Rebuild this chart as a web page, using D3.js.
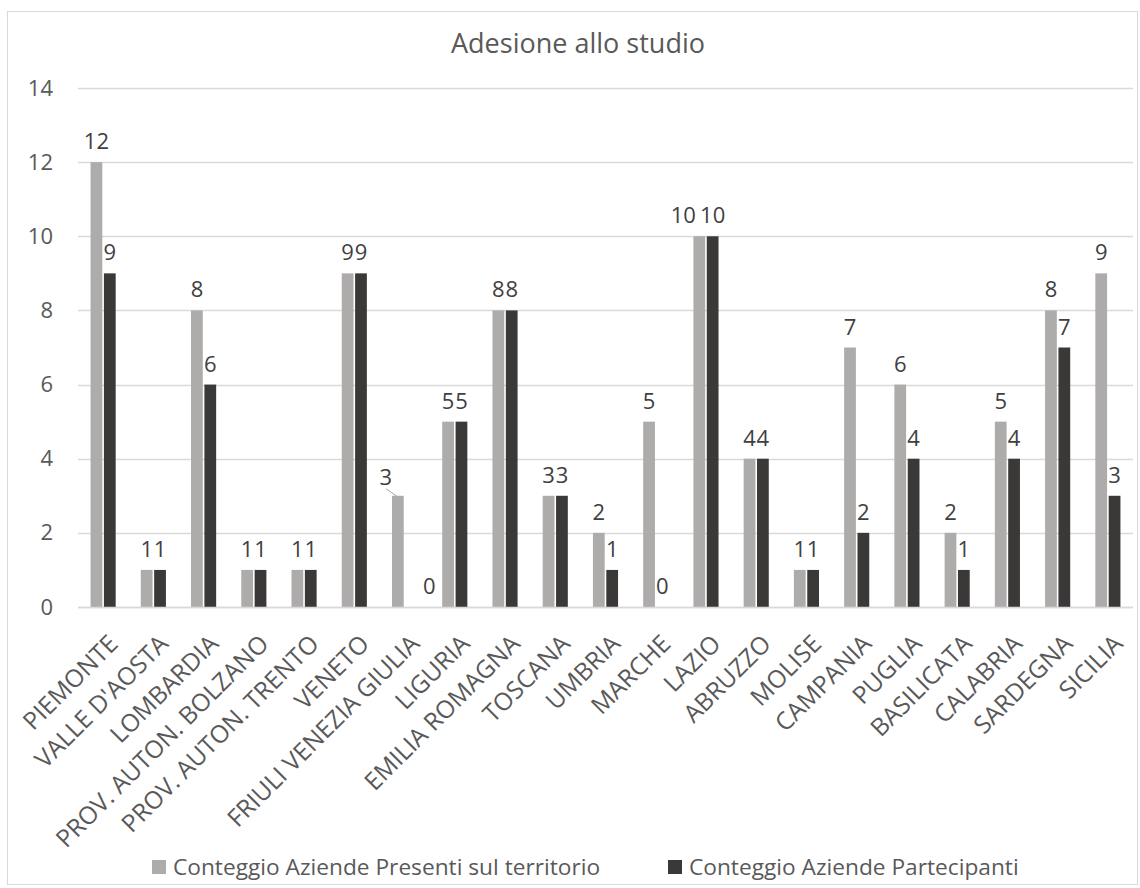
<!DOCTYPE html>
<html>
<head>
<meta charset="utf-8">
<script src="https://cdn.jsdelivr.net/npm/d3@7"></script>
<style>
  body { margin: 0; background: #fff; }
  svg text { font-family: "Open Sans", sans-serif; fill: #595959; }
</style>
</head>
<body>
<div id="chart"></div>
<script>
const regions = ["PIEMONTE", "VALLE D'AOSTA", "LOMBARDIA", "PROV. AUTON. BOLZANO", "PROV. AUTON. TRENTO",
    "VENETO", "FRIULI VENEZIA GIULIA", "LIGURIA", "EMILIA ROMAGNA", "TOSCANA", "UMBRIA", "MARCHE",
    "LAZIO", "ABRUZZO", "MOLISE", "CAMPANIA", "PUGLIA", "BASILICATA", "CALABRIA", "SARDEGNA", "SICILIA"];
const presenti = [12, 1, 8, 1, 1, 9, 3, 5, 8, 3, 2, 5, 10, 4, 1, 7, 6, 2, 5, 8, 9];
const partecipanti = [9, 1, 6, 1, 1, 9, 0, 5, 8, 3, 1, 0, 10, 4, 1, 2, 4, 1, 4, 7, 3];
const seriesNames = ["Conteggio Aziende Presenti sul territorio", "Conteggio Aziende Partecipanti"];
const yTicks = [0, 2, 4, 6, 8, 10, 12, 14];

const W = 1140, H = 888;
const margin = {top: 88, right: 7, bottom: 281, left: 78};
const colors = ["#aeabab", "#3b3838"];

const svg = d3.select("#chart").append("svg")
    .attr("width", W).attr("height", H);

// chart frame
svg.append("rect")
    .attr("x", 7.5).attr("y", 11.5)
    .attr("width", 1130).attr("height", 873)
    .attr("fill", "#fff").attr("stroke", "#d9d9d9");

svg.append("text")
    .attr("x", 578).attr("y", 53)
    .attr("text-anchor", "middle")
    .attr("font-size", 27)
    .text("Adesione allo studio");

const x = d3.scaleBand()
    .domain(regions)
    .range([margin.left, W - margin.right])
    .paddingInner(0.5).paddingOuter(0.25);

const x1 = d3.scaleBand()
    .domain([0, 1])
    .range([0, x.bandwidth()])
    .paddingInner(0.12);

const y = d3.scaleLinear()
    .domain([0, 14])
    .range([H - margin.bottom, margin.top]);

// gridlines
svg.append("g")
    .selectAll("line")
    .data(yTicks)
    .join("line")
    .attr("x1", margin.left).attr("x2", W - margin.right)
    .attr("y1", d => Math.round(y(d)) + 0.5).attr("y2", d => Math.round(y(d)) + 0.5)
    .attr("stroke", "#d9d9d9").attr("stroke-width", 1.5);

// y axis labels
const yAxis = d3.axisLeft(y).tickValues(yTicks).tickSize(0).tickPadding(0);
svg.append("g")
    .attr("transform", `translate(${margin.left - 25},0)`)
    .call(yAxis)
    .call(g => g.select(".domain").remove())
    .selectAll("text")
    .attr("font-size", 22)
    .attr("font-family", "Open Sans, sans-serif")
    .style("fill", "#595959");

// bars
const data = regions.map((r, i) => ({region: r, values: [presenti[i], partecipanti[i]]}));

const groups = svg.append("g")
    .selectAll("g")
    .data(data)
    .join("g")
    .attr("transform", d => `translate(${x(d.region)},0)`);

groups.selectAll("rect")
    .data(d => d.values.map((v, k) => ({k, v})))
    .join("rect")
    .attr("x", d => x1(d.k))
    .attr("width", x1.bandwidth())
    .attr("y", d => y(d.v))
    .attr("height", d => y(0) - y(d.v))
    .attr("fill", d => colors[d.k]);

// value labels (a few were moved by hand in the original)
const nudge = {
    "FRIULI VENEZIA GIULIA|0": [-12, 2, true],
    "FRIULI VENEZIA GIULIA|1": [18, 0],
    "LAZIO|0": [-16, 0]
};

groups.each(function(d) {
    const g = d3.select(this);
    d.values.forEach((v, k) => {
        const off = nudge[d.region + "|" + k] || [0, 0];
        const cx = x1(k) + x1.bandwidth() / 2;
        const cy = y(v) - 13;
        if (off[2]) {
            // leader line back to the bar
            g.append("line")
                .attr("x1", cx + off[0]).attr("y1", cy + off[1] + 4)
                .attr("x2", cx).attr("y2", y(v) + 1)
                .attr("stroke", "#a6a6a6");
        }
        g.append("text")
            .attr("x", cx + off[0])
            .attr("y", cy + off[1])
            .attr("text-anchor", "middle")
            .attr("font-size", 22)
            .style("fill", "#404040")
            .text(v);
    });
});

// baseline
svg.append("line")
    .attr("x1", margin.left).attr("x2", W - margin.right)
    .attr("y1", y(0) + 0.5).attr("y2", y(0) + 0.5)
    .attr("stroke", "#d9d9d9").attr("stroke-width", 1.5);

// category labels
svg.append("g")
    .selectAll("text")
    .data(regions)
    .join("text")
    .attr("transform", d => `translate(${x(d) + x.bandwidth() / 2 + 4},${y(0) + 26}) rotate(-45)`)
    .attr("text-anchor", "end")
    .attr("dy", "0.71em")
    .attr("font-size", 24.5)
    .text(d => d);

// legend
const legendX = [152, 668];
const legend = svg.append("g")
    .selectAll("g")
    .data(seriesNames)
    .join("g")
    .attr("transform", (d, i) => `translate(${legendX[i]},867)`);

legend.append("rect")
    .attr("x", 0).attr("y", -7)
    .attr("width", 14).attr("height", 14)
    .attr("fill", (d, i) => colors[i]);

legend.append("text")
    .attr("x", 21).attr("y", 0)
    .attr("dy", "0.35em")
    .attr("font-size", 22.7)
    .text(d => d);
</script>
</body>
</html>
